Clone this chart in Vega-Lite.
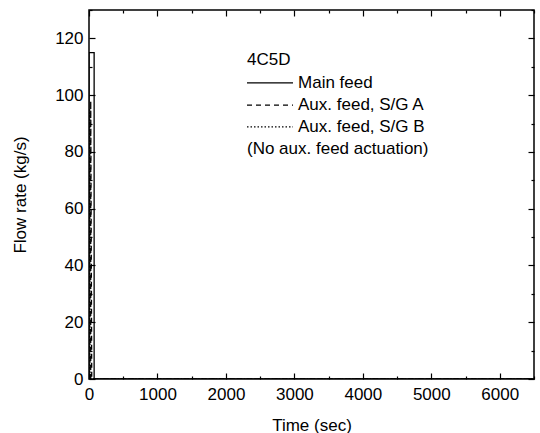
{
  "$schema": "https://vega.github.io/schema/vega-lite/v6.json",
  "width": 445,
  "height": 369,
  "autosize": {"type": "none"},
  "padding": {"left": 89, "top": 10, "right": 6, "bottom": 54},
  "background": "white",
  "config": {
    "view": {"stroke": "black", "strokeWidth": 1.5},
    "font": "Liberation Sans",
    "axis": {"domain": false, "grid": false, "tickColor": "black", "tickWidth": 1.2, "labelColor": "black", "titleColor": "black", "labelFont": "Liberation Sans", "titleFont": "Liberation Sans", "labelFontSize": 17, "titleFontSize": 17, "titleFontWeight": "normal"}
  },
  "datasets": {
    "flow": [
      {"series": "Main feed", "ord": 1, "t": 0, "v": 0},
      {"series": "Main feed", "ord": 2, "t": 0, "v": 115},
      {"series": "Main feed", "ord": 3, "t": 75, "v": 115},
      {"series": "Main feed", "ord": 4, "t": 75, "v": 0},
      {"series": "Main feed", "ord": 5, "t": 6500, "v": 0},
      {"series": "Aux. feed, S/G A", "ord": 1, "t": 25, "v": 0},
      {"series": "Aux. feed, S/G A", "ord": 2, "t": 25, "v": 98},
      {"series": "Aux. feed, S/G A", "ord": 3, "t": 40, "v": 0},
      {"series": "Aux. feed, S/G A", "ord": 4, "t": 6500, "v": 0},
      {"series": "Aux. feed, S/G B", "ord": 1, "t": 10, "v": 0},
      {"series": "Aux. feed, S/G B", "ord": 2, "t": 10, "v": 95},
      {"series": "Aux. feed, S/G B", "ord": 3, "t": 15, "v": 0},
      {"series": "Aux. feed, S/G B", "ord": 4, "t": 6500, "v": 0}
    ],
    "legend": [
      {"series": "Main feed", "t": 2308, "t2": 2980, "tt": 3053, "v": 104.3},
      {"series": "Aux. feed, S/G A", "t": 2308, "t2": 2980, "tt": 3053, "v": 96.5},
      {"series": "Aux. feed, S/G B", "t": 2308, "t2": 2980, "tt": 3053, "v": 88.8}
    ],
    "notes": [
      {"label": "4C5D", "t": 2308, "v": 112.4},
      {"label": "(No aux. feed actuation)", "t": 2308, "v": 81.0}
    ]
  },
  "layer": [
    {
      "data": {"name": "flow"},
      "mark": {"type": "line", "color": "black", "strokeWidth": 1.3, "clip": true},
      "encoding": {
        "x": {"field": "t", "type": "quantitative", "scale": {"domain": [0, 6500], "nice": false, "zero": false},
          "axis": {"orient": "bottom", "title": "Time (sec)", "titlePadding": 12, "format": "d",
            "values": [0, 500, 1000, 1500, 2000, 2500, 3000, 3500, 4000, 4500, 5000, 5500, 6000, 6500],
            "labelExpr": "datum.value % 1000 === 0 ? datum.label : ''",
            "tickSize": {"condition": {"test": "datum.value % 1000 === 0", "value": -6}, "value": -3},
            "labelPadding": 13, "labelFlush": false, "labelOverlap": false}},
        "y": {"field": "v", "type": "quantitative", "scale": {"domain": [0, 130], "nice": false, "zero": false},
          "axis": {"orient": "left", "title": "Flow rate (kg/s)", "titlePadding": 25, "format": "d",
            "values": [0, 10, 20, 30, 40, 50, 60, 70, 80, 90, 100, 110, 120, 130],
            "labelExpr": "datum.value % 20 === 0 && datum.value < 130 ? datum.label : ''",
            "tickSize": {"condition": {"test": "datum.value % 20 === 0", "value": -6}, "value": -3},
            "labelPadding": 12, "labelOverlap": false}},
        "strokeDash": {"field": "series", "type": "nominal", "legend": null,
          "scale": {"domain": ["Main feed", "Aux. feed, S/G A", "Aux. feed, S/G B"], "range": [[1, 0], [5, 4], [1.5, 2]]}},
        "order": {"field": "ord", "type": "quantitative"}
      }
    },
    {
      "data": {"name": "legend"},
      "mark": {"type": "rule", "color": "black", "strokeWidth": 1.3},
      "encoding": {
        "x": {"field": "t", "type": "quantitative",
          "axis": {"orient": "top", "title": null, "labels": false,
            "values": [0, 500, 1000, 1500, 2000, 2500, 3000, 3500, 4000, 4500, 5000, 5500, 6000, 6500],
            "tickSize": {"condition": {"test": "datum.value % 1000 === 0", "value": -6}, "value": -3}}},
        "x2": {"field": "t2"},
        "y": {"field": "v", "type": "quantitative",
          "axis": {"orient": "right", "title": null, "labels": false,
            "values": [0, 10, 20, 30, 40, 50, 60, 70, 80, 90, 100, 110, 120, 130],
            "tickSize": {"condition": {"test": "datum.value % 20 === 0", "value": -6}, "value": -3}}},
        "strokeDash": {"field": "series", "type": "nominal", "legend": null}
      }
    },
    {
      "data": {"name": "legend"},
      "mark": {"type": "text", "align": "left", "baseline": "middle", "fontSize": 17, "color": "black", "font": "Liberation Sans"},
      "encoding": {
        "x": {"field": "tt", "type": "quantitative", "axis": null},
        "y": {"field": "v", "type": "quantitative", "axis": null},
        "text": {"field": "series"}
      }
    },
    {
      "data": {"name": "notes"},
      "mark": {"type": "text", "align": "left", "baseline": "middle", "fontSize": 17, "color": "black", "font": "Liberation Sans"},
      "encoding": {
        "x": {"field": "t", "type": "quantitative", "axis": null},
        "y": {"field": "v", "type": "quantitative", "axis": null},
        "text": {"field": "label"}
      }
    }
  ],
  "resolve": {"axis": {"x": "independent", "y": "independent"}}
}
